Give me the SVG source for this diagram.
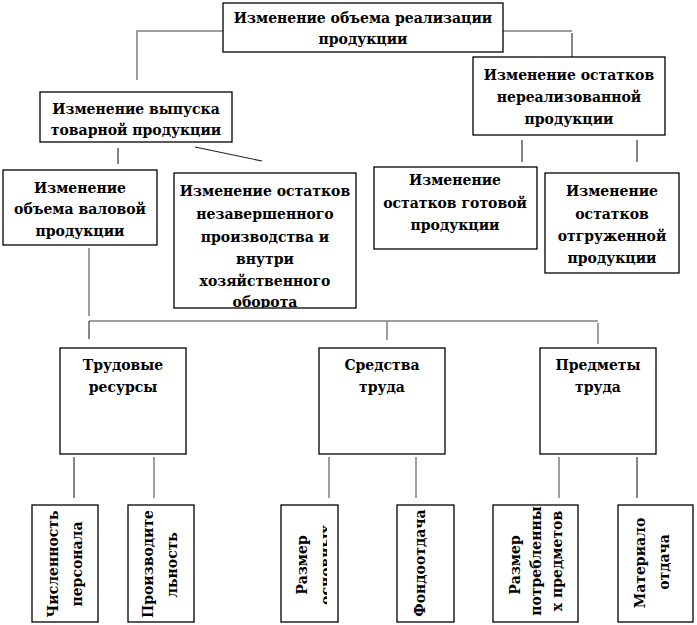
<svg xmlns="http://www.w3.org/2000/svg" width="697" height="625" viewBox="0 0 697 625">
<style>
.b{fill:#fff;stroke:#000;stroke-width:1.3}
.t{font-family:"DejaVu Serif","Liberation Serif",serif;font-weight:bold;font-size:14px;text-anchor:middle;fill:#000}
.v{font-family:"DejaVu Serif","Liberation Mono",monospace;font-weight:bold;font-size:14px;text-anchor:middle;fill:#000}
.g{fill:none;stroke:#7f7f7f;stroke-width:1.5}
.k{fill:none;stroke:#222;stroke-width:1.1}
</style>
<defs>
<clipPath id="c3"><rect x="281" y="505" width="46" height="117"/></clipPath>
<clipPath id="c2"><rect x="174" y="173" width="182" height="135"/></clipPath>
</defs>
<rect width="697" height="625" fill="#fff"/>
<g id="connectors">
<path class="g" d="M223,31 H137 V80"/>
<path class="g" d="M503,31 H572"/>
<path class="k" d="M572,33 V57"/>
<path class="k" d="M118,148 V164"/>
<path class="k" d="M195,147 L262,161"/>
<path class="k" d="M522,140 V162"/>
<path class="k" d="M637,140 V162"/>
<path class="g" d="M89,248 V316"/>
<path class="g" d="M89,321 H598"/>
<path class="k" d="M89,321 V339"/>
<path class="g" d="M387,321 V340"/>
<path class="g" d="M598,323 V344"/>
<path class="k" d="M74,457 V498"/>
<path class="g" d="M154,457 V498"/>
<path class="g" d="M329,457 V498"/>
<path class="g" d="M416,457 V498"/>
<path class="g" d="M559,457 V498"/>
<path class="k" d="M637,457 V498"/>
</g>
<g id="n-top">
<rect class="b" x="223" y="3" width="280" height="49"/>
<text class="t" x="363" y="23">Изменение объема реализации</text>
<text class="t" x="363" y="44">продукции</text>
</g>
<g id="n-vypusk">
<rect class="b" x="40" y="92" width="192" height="50"/>
<text class="t" x="136" y="114">Изменение выпуска</text>
<text class="t" x="136" y="135">товарной продукции</text>
</g>
<g id="n-nereal">
<rect class="b" x="473" y="57" width="192" height="78"/>
<text class="t" x="569" y="80">Изменение остатков</text>
<text class="t" x="569" y="102">нереализованной</text>
<text class="t" x="569" y="124">продукции</text>
</g>
<g id="n-valovoy">
<rect class="b" x="3" y="170" width="154" height="75"/>
<text class="t" x="80" y="193">Изменение</text>
<text class="t" x="80" y="214">объема валовой</text>
<text class="t" x="80" y="236">продукции</text>
</g>
<g id="n-nezav">
<rect class="b" x="174" y="173" width="182" height="135"/>
<g clip-path="url(#c2)">
<text class="t" x="265" y="196">Изменение остатков</text>
<text class="t" x="265" y="219">незавершенного</text>
<text class="t" x="265" y="242">производства и</text>
<text class="t" x="265" y="264">внутри</text>
<text class="t" x="265" y="286">хозяйственного</text>
<text class="t" x="265" y="307">оборота</text>
</g>
</g>
<g id="n-gotov">
<rect class="b" x="374" y="167" width="163" height="82"/>
<text class="t" x="455" y="185">Изменение</text>
<text class="t" x="455" y="208">остатков готовой</text>
<text class="t" x="455" y="230">продукции</text>
</g>
<g id="n-otgruzh">
<rect class="b" x="545" y="173" width="134" height="100"/>
<text class="t" x="612" y="196">Изменение</text>
<text class="t" x="612" y="219">остатков</text>
<text class="t" x="612" y="241">отгруженной</text>
<text class="t" x="612" y="263">продукции</text>
</g>
<g id="n-trud">
<rect class="b" x="60" y="348" width="126" height="106"/>
<text class="t" x="123" y="370">Трудовые</text>
<text class="t" x="123" y="392">ресурсы</text>
</g>
<g id="n-sredstva">
<rect class="b" x="319" y="348" width="126" height="106"/>
<text class="t" x="382" y="370">Средства</text>
<text class="t" x="382" y="392">труда</text>
</g>
<g id="n-predmety">
<rect class="b" x="540" y="348" width="116" height="106"/>
<text class="t" x="598" y="370">Предметы</text>
<text class="t" x="598" y="392">труда</text>
</g>
<g id="n-chisl">
<rect class="b" x="32" y="505" width="66" height="117"/>
<text class="v" transform="translate(58,564) rotate(-90)">Численность</text>
<text class="v" transform="translate(82,564) rotate(-90)">персонала</text>
</g>
<g id="n-proizv">
<rect class="b" x="128" y="505" width="66" height="117"/>
<text class="v" transform="translate(153,564) rotate(-90)">Производите</text>
<text class="v" transform="translate(177,565) rotate(-90)">льность</text>
</g>
<g id="n-razmer-osn">
<rect class="b" x="281" y="505" width="57" height="117"/>
<g clip-path="url(#c3)">
<text class="v" transform="translate(307,565) rotate(-90)">Размер</text>
<text class="v" transform="translate(331,565) rotate(-90)">основных</text>
</g>
</g>
<g id="n-fondo">
<rect class="b" x="397" y="505" width="57" height="117"/>
<text class="v" transform="translate(425,563) rotate(-90)">Фондоотдача</text>
</g>
<g id="n-razmer-potr">
<rect class="b" x="493" y="505" width="85" height="117"/>
<text class="v" transform="translate(520,565) rotate(-90)">Размер</text>
<text class="v" transform="translate(541,561) rotate(-90)">потребленны</text>
<text class="v" transform="translate(562,561) rotate(-90)">х предметов</text>
</g>
<g id="n-material">
<rect class="b" x="618" y="505" width="75" height="117"/>
<text class="v" transform="translate(645,563) rotate(-90)">Материало</text>
<text class="v" transform="translate(669,562) rotate(-90)">отдача</text>
</g>
</svg>
